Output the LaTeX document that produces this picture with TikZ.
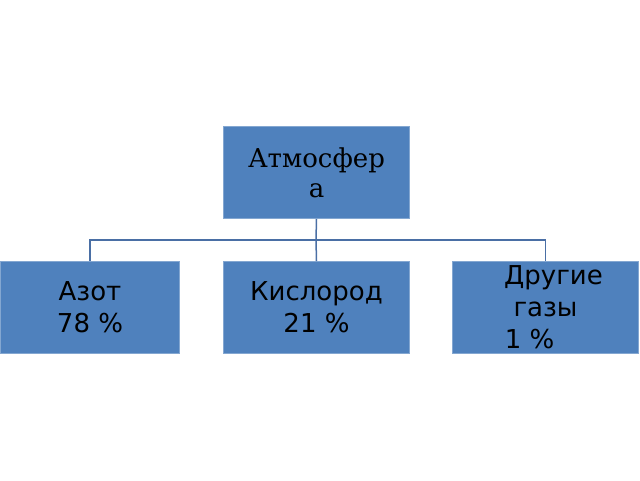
\documentclass[tikz,border=0pt]{standalone}
\usepackage{fontspec}
\setmainfont{DejaVu Sans}
\newfontfamily\serifru{DejaVu Serif}
\definecolor{boxblue}{HTML}{4F81BD}
\definecolor{linkblue}{HTML}{4A6FA5}
\begin{document}
\begin{tikzpicture}[x=1pt,y=-1pt,
  box/.style={draw=boxblue!70!white,line width=1pt,fill=boxblue,minimum width=186pt,minimum height=92pt,inner sep=0pt,align=center,anchor=north west,text=black},
  link/.style={draw=linkblue,line width=1.5pt}]
\useasboundingbox (0,0) rectangle (640,480);
\node[box,font=\serifru\fontsize{26}{30}\selectfont] (top) at (223,126) {Атмосфер\\а};
\node[box,font=\fontsize{26}{32}\selectfont,minimum width=179pt] (a) at (0,261) {Азот\\78 \%};
\node[box,font=\fontsize{26}{32}\selectfont] (b) at (223,261) {Кислород\\21 \%};
\node[box,font=\fontsize{26}{32}\selectfont] (c) at (452,261) {\phantom{a}Другие\\газы\\1 \%\phantom{aa}};
\coordinate (j) at (316,240);
\draw[link] (top.south) -- (j);
\draw[link] (a.north) |- (j) -| (c.north);
\draw[link] (j) -- (b.north);
\end{tikzpicture}
\end{document}
